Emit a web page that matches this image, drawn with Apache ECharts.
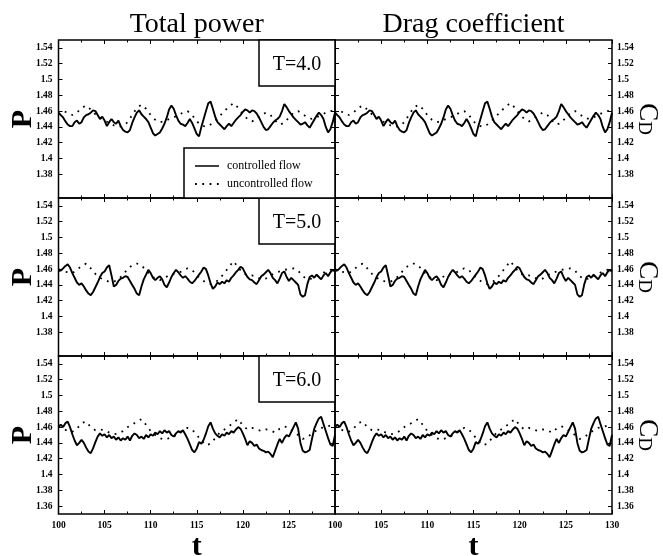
<!DOCTYPE html>
<html><head><meta charset="utf-8">
<script src="https://cdn.jsdelivr.net/npm/echarts@6/dist/echarts.min.js"></script>
<style>html,body{margin:0;padding:0;background:#fff}#c{width:663px;height:556px}</style>
</head><body><div id="c"></div>
<script>
// ---------- texts & ticks ----------
const panelTitles = ['Total power', 'Drag coefficient'];
const periodLabels = ['T=4.0', 'T=5.0', 'T=6.0'];
const legendNames = ['controlled flow', 'uncontrolled flow'];
const xTicks = [100, 105, 110, 115, 120, 125, 130];
const yTicksUpper = [1.38, 1.40, 1.42, 1.44, 1.46, 1.48, 1.50, 1.52, 1.54];
const yTicksLower = [1.36, 1.38, 1.40, 1.42, 1.44, 1.46, 1.48, 1.50, 1.52, 1.54];
const tStart = 100, stepCtrl = 0.25, stepUnctrl = 0.5;

// ---------- data ----------
// T=4.0, controlled flow (every 0.25)
const pRow1C = [
 1.458,1.455,1.452,1.447, 1.443,1.441,1.441,1.446, 1.448,1.444,1.446,1.452, 1.455,1.456,1.458,1.461,
 1.460,1.455,1.450,1.453, 1.448,1.441,1.446,1.450, 1.446,1.444,1.448,1.441, 1.436,1.434,1.433,1.436,
 1.445,1.452,1.458,1.461, 1.456,1.453,1.450,1.446, 1.439,1.432,1.429,1.431, 1.433,1.438,1.444,1.452,
 1.462,1.467,1.463,1.455, 1.448,1.444,1.443,1.441, 1.445,1.450,1.445,1.438, 1.431,1.428,1.440,1.450,
 1.460,1.470,1.472,1.463, 1.453,1.446,1.443,1.440, 1.437,1.441,1.444,1.441, 1.445,1.449,1.452,1.455,
 1.459,1.462,1.461,1.458, 1.461,1.460,1.457,1.452, 1.446,1.440,1.436,1.437, 1.441,1.445,1.448,1.450,
 1.453,1.460,1.469,1.465, 1.460,1.456,1.452,1.449, 1.446,1.443,1.444,1.446, 1.442,1.439,1.444,1.449,
 1.454,1.458,1.455,1.450, 1.440,1.433,1.437,1.446, 1.458];
// T=4.0, uncontrolled flow (every 0.5)
const pRow1U = [
 1.456,1.460,1.458,1.455,1.458,1.464,1.467,1.462,1.456,1.452,
 1.448,1.445,1.442,1.440,1.441,1.446,1.455,1.464,1.468,1.463,
 1.455,1.449,1.446,1.447,1.450,1.452,1.455,1.458,1.460,1.455,
 1.447,1.442,1.440,1.443,1.448,1.454,1.460,1.466,1.470,1.464,
 1.456,1.450,1.447,1.450,1.455,1.458,1.455,1.448,1.443,1.445,
 1.452,1.458,1.460,1.456,1.452,1.450,1.452,1.455,1.458,1.460,
 1.461];
// T=5.0
const pRow2C = [
 1.460,1.458,1.461,1.464, 1.466,1.462,1.455,1.449, 1.443,1.440,1.442,1.438, 1.433,1.429,1.427,1.431,
 1.437,1.443,1.450,1.455, 1.457,1.462,1.465,1.452, 1.438,1.440,1.445,1.448, 1.449,1.451,1.450,1.445,
 1.440,1.435,1.429,1.427, 1.438,1.447,1.453,1.459, 1.455,1.449,1.446,1.449, 1.451,1.447,1.440,1.437,
 1.443,1.450,1.455,1.459, 1.456,1.452,1.449,1.451, 1.448,1.444,1.442,1.445, 1.449,1.453,1.457,1.462,
 1.460,1.452,1.442,1.435, 1.438,1.443,1.441,1.444, 1.442,1.446,1.444,1.449, 1.452,1.456,1.459,1.463,
 1.461,1.455,1.450,1.447, 1.446,1.443,1.441,1.446, 1.451,1.453,1.456,1.459, 1.455,1.449,1.446,1.442,
 1.448,1.455,1.457,1.450, 1.445,1.449,1.446,1.443, 1.440,1.428,1.425,1.427, 1.441,1.450,1.452,1.449,
 1.453,1.450,1.447,1.452, 1.455,1.451,1.456,1.459, 1.457];
const pRow2U = [
 1.458,1.457,1.456,1.455,1.459,1.464,1.467,1.461,1.454,1.449,
 1.446,1.444,1.444,1.447,1.453,1.460,1.465,1.467,1.465,1.458,
 1.452,1.448,1.446,1.449,1.452,1.454,1.455,1.458,1.461,1.459,
 1.452,1.447,1.443,1.441,1.443,1.448,1.455,1.463,1.470,1.462,
 1.455,1.452,1.452,1.450,1.447,1.448,1.452,1.455,1.457,1.459,
 1.460,1.461,1.458,1.451,1.447,1.448,1.451,1.454,1.457,1.459,
 1.460];
// T=6.0
const pRow3C = [
 1.461,1.463,1.460,1.465, 1.467,1.460,1.451,1.443, 1.437,1.440,1.444,1.440, 1.434,1.429,1.427,1.433,
 1.441,1.448,1.452,1.449, 1.451,1.447,1.450,1.446, 1.448,1.444,1.447,1.443, 1.446,1.444,1.448,1.443,
 1.449,1.452,1.450,1.446, 1.448,1.445,1.450,1.447, 1.451,1.449,1.453,1.451, 1.455,1.452,1.456,1.453,
 1.455,1.450,1.448,1.452, 1.455,1.453,1.456,1.451, 1.445,1.438,1.431,1.428, 1.433,1.441,1.439,1.444,
 1.452,1.461,1.466,1.458, 1.452,1.449,1.447,1.451, 1.449,1.453,1.451,1.455, 1.453,1.457,1.460,1.458,
 1.452,1.445,1.437,1.442, 1.440,1.436,1.438,1.433, 1.431,1.430,1.428,1.429, 1.426,1.422,1.430,1.438,
 1.445,1.440,1.446,1.450, 1.448,1.454,1.460,1.466, 1.458,1.440,1.430,1.428, 1.429,1.431,1.445,1.458,
 1.465,1.471,1.473,1.464, 1.455,1.446,1.438,1.436, 1.450];
const pRow3U = [
 1.461,1.458,1.455,1.454,1.458,1.465,1.467,1.460,1.456,1.457,
 1.456,1.453,1.451,1.452,1.455,1.460,1.463,1.467,1.470,1.463,
 1.455,1.450,1.446,1.444,1.446,1.448,1.452,1.456,1.459,1.457,
 1.450,1.443,1.437,1.439,1.446,1.453,1.457,1.461,1.466,1.470,
 1.462,1.457,1.459,1.457,1.455,1.457,1.456,1.453,1.458,1.461,
 1.459,1.454,1.450,1.445,1.447,1.452,1.456,1.459,1.460,1.462,
 1.461];
// drag coefficient traces are indistinguishable from the power traces in the picture
const cdRow1C = pRow1C, cdRow1U = pRow1U;
const cdRow2C = pRow2C, cdRow2U = pRow2U;
const cdRow3C = pRow3C, cdRow3U = pRow3U;

// ---------- build ----------
const FONT = '"Liberation Serif", "DejaVu Serif", serif';
const ctrl = [[pRow1C, cdRow1C], [pRow2C, cdRow2C], [pRow3C, cdRow3C]];
const unctrl = [[pRow1U, cdRow1U], [pRow2U, cdRow2U], [pRow3U, cdRow3U]];
const colX = [[58.5, 276.5], [335, 277]];
const rowY = [40, 198, 356];
const rowH = 158;
const ctrlStyle = {color: '#000', width: 1.9};
const unctrlDash = [1.8, 5.5];
const unctrlStyle = {color: '#000', width: 1.8, type: unctrlDash, cap: 'butt'};

const pair = (vals, step) => vals.map((v, i) => [tStart + i * step, v]);

const grids = [], xAxes = [], yAxes = [], series = [];
for (let r = 0; r < 3; r++) {
  for (let c = 0; c < 2; c++) {
    const g = grids.length;
    grids.push({left: colX[c][0], top: rowY[r], width: colX[c][1], height: rowH,
      show: true, borderColor: '#000', borderWidth: 1.5, backgroundColor: 'transparent',
      containLabel: false, outerBoundsMode: 'none'});
    const yt = r === 2 ? yTicksLower : yTicksUpper;
    const xBase = {gridIndex: g, type: 'value', min: 100, max: 130, interval: 5,
      axisLine: {show: false}, splitLine: {show: false}, minorSplitLine: {show: false},
      axisTick: {inside: true, length: 4, lineStyle: {color: '#000', width: 1}},
      minorTick: {show: true, splitNumber: 2, length: 2.5, lineStyle: {color: '#000', width: 1}}};
    const xi = xAxes.length;
    xAxes.push(Object.assign({}, xBase, {position: 'bottom',
      axisLabel: {show: r === 2, margin: 7, color: '#000', fontFamily: FONT, fontSize: 9.5, fontWeight: 'bold',
        showMaxLabel: c === 1, showMinLabel: true},
      name: r === 2 ? 't' : '', nameLocation: 'middle', nameGap: 18, nameMoveOverlap: false,
      nameTextStyle: {fontFamily: FONT, fontSize: 30, fontWeight: 'bold', color: '#000'}}));
    xAxes.push(Object.assign({}, xBase, {position: 'top', axisLabel: {show: false}}));
    const yBase = {gridIndex: g, type: 'value', min: 1.35, max: 1.55,
      axisLine: {show: false}, splitLine: {show: false},
      axisTick: {inside: true, length: 4, customValues: yt, lineStyle: {color: '#000', width: 1}}};
    const yi = yAxes.length;
    const yName = c === 0 ? 'P' : '{c|C}{d|D}';
    yAxes.push(Object.assign({}, yBase, {position: c === 0 ? 'left' : 'right',
      axisLabel: {show: true, customValues: yt, margin: c === 0 ? 6 : 5, color: '#000',
        fontFamily: FONT, fontSize: 9.5, fontWeight: 'bold', formatter: v => String(+v.toFixed(2))},
      name: yName, nameLocation: 'middle', nameGap: c === 0 ? 20 : 22, nameRotate: c === 0 ? 90 : -90,
      nameMoveOverlap: false,
      nameTextStyle: c === 0
        ? {fontFamily: FONT, fontSize: 30, fontWeight: 'bold', color: '#000'}
        : {color: '#000', rich: {c: {fontFamily: FONT, fontSize: 27, color: '#000'},
                                 d: {fontFamily: FONT, fontSize: 19, color: '#000', verticalAlign: 'bottom'}}}}));
    yAxes.push(Object.assign({}, yBase, {position: c === 0 ? 'right' : 'left', axisLabel: {show: false}}));

    series.push({type: 'line', name: legendNames[0], xAxisIndex: xi, yAxisIndex: yi,
      data: pair(ctrl[r][c], stepCtrl), symbol: 'none', silent: true, z: 3,
      lineStyle: ctrlStyle});
    series.push({type: 'line', name: legendNames[1], xAxisIndex: xi, yAxisIndex: yi,
      data: pair(unctrl[r][c], stepUnctrl), symbol: 'none', silent: true, z: 2,
      lineStyle: unctrlStyle});
  }
}

const graphics = [];
panelTitles.forEach((t, c) => {
  graphics.push({type: 'text', z: 100, style: {text: t, x: colX[c][0] + colX[c][1] / 2, y: 25,
    textAlign: 'center', textVerticalAlign: 'middle', verticalAlign: 'middle',
    font: '28px ' + FONT, fill: '#000'}});
});
periodLabels.forEach((t, r) => {
  graphics.push({type: 'rect', z: 100, shape: {x: 259, y: rowY[r], width: 76, height: 46},
    style: {fill: '#fff', stroke: '#000', lineWidth: 1.5}});
  graphics.push({type: 'text', z: 101, style: {text: t, x: 297, y: rowY[r] + 25,
    textAlign: 'center', textVerticalAlign: 'middle', verticalAlign: 'middle',
    font: '20px ' + FONT, fill: '#000'}});
});
// legend box
graphics.push({type: 'rect', z: 100, shape: {x: 184, y: 148, width: 151, height: 50},
  style: {fill: '#fff', stroke: '#000', lineWidth: 1.5}});
graphics.push({type: 'line', z: 101, shape: {x1: 195, y1: 166, x2: 219, y2: 166},
  style: {stroke: '#000', lineWidth: 1.5}});
graphics.push({type: 'line', z: 101, shape: {x1: 195, y1: 184, x2: 221, y2: 184},
  style: {stroke: '#000', lineWidth: 1.8, lineDash: unctrlDash}});
legendNames.forEach((t, i) => {
  graphics.push({type: 'text', z: 101, style: {text: t, x: 227, y: 166 + 18 * i,
    textAlign: 'left', textVerticalAlign: 'middle', verticalAlign: 'middle',
    font: '12px ' + FONT, fill: '#000'}});
});

const chart = echarts.init(document.getElementById('c'), null, {renderer: 'canvas'});
chart.setOption({
  animation: false,
  backgroundColor: '#fff',
  grid: grids, xAxis: xAxes, yAxis: yAxes, series: series,
  graphic: graphics
});
</script></body></html>
